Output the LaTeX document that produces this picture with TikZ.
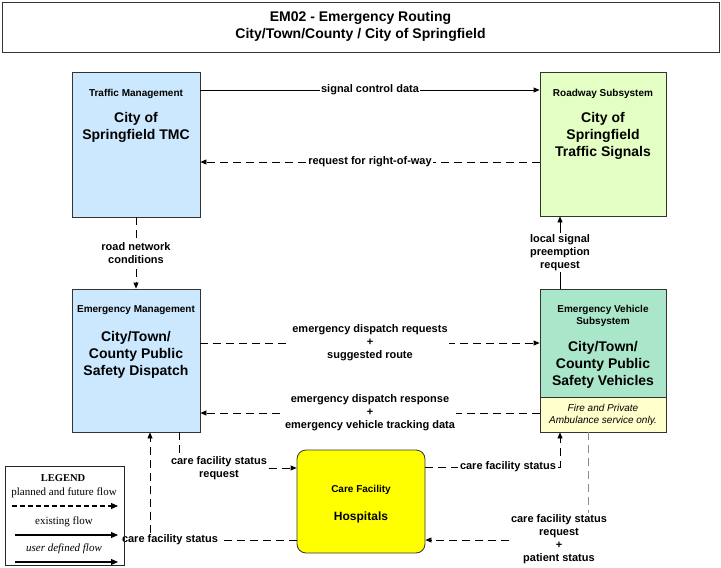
\documentclass[tikz,border=0pt]{standalone}
\usepackage{fontspec}
\setmainfont{Liberation Sans}
\newfontfamily\legfont{Liberation Serif}
\usetikzlibrary{arrows.meta,calc}
\definecolor{tmcblue}{HTML}{CCE8FE}
\definecolor{roadgreen}{HTML}{E4FFC4}
\definecolor{vehgreen}{HTML}{AAE6CA}
\definecolor{noteyellow}{HTML}{FFFFCC}
\definecolor{hospyellow}{HTML}{FFFF00}
\begin{document}
\begin{tikzpicture}[x=1pt,y=-1pt,
  sysbox/.style={draw=black!80, line width=0.8pt, inner sep=0pt},
  hdr/.style={font=\fontsize{10}{12}\selectfont\bfseries, align=center, inner sep=0pt},
  mainlbl/.style={font=\fontsize{14}{17}\selectfont\bfseries, align=center, inner sep=0pt},
  lab/.style={font=\fontsize{11}{13}\selectfont\bfseries, align=center, fill=white, inner sep=1.5pt},
  flowdash/.style={dash pattern=on 8pt off 5pt, line width=0.8pt},
  flowsolid/.style={line width=0.8pt},
  tip/.style={-{Triangle[length=6pt,width=5pt]}},
  legtxt/.style={font=\legfont\fontsize{11}{13}\selectfont, inner sep=0pt},
]
\useasboundingbox (0,0) rectangle (721,568);
% title
\node[draw=black!80, line width=1pt, minimum width=717pt, minimum height=50pt, inner sep=0pt] (title) at (360.5,27) {};
\node[mainlbl] (titletext) at (360.5,26.5) {EM02 - Emergency Routing\\City/Town/County / City of Springfield};

% boxes
\node[sysbox, fill=tmcblue, minimum width=128pt, minimum height=145pt] (tmc) at (136,144.5) {};
\node[hdr] (tmch) at (136,94) {Traffic Management};
\node[mainlbl] (tmcm) at (136,127.5) {City of\\Springfield TMC};

\node[sysbox, fill=roadgreen, minimum width=126pt, minimum height=144pt] (road) at (603,144) {};
\node[hdr] (roadh) at (603,94) {Roadway Subsystem};
\node[mainlbl] (roadm) at (603,136) {City of\\Springfield\\Traffic Signals};

\node[sysbox, fill=tmcblue, minimum width=128pt, minimum height=143pt] (em) at (136,360.5) {};
\node[hdr] (emh) at (136,310) {Emergency Management};
\node[mainlbl] (emm) at (136,354.5) {City/Town/\\County Public\\Safety Dispatch};

\node[sysbox, fill=vehgreen, minimum width=126pt, minimum height=108pt] (veh) at (603,343) {};
\node[sysbox, fill=noteyellow, minimum width=126pt, minimum height=35pt] (note) at (603,414.5) {};
\node[hdr] (vehh) at (603,316) {Emergency Vehicle\\Subsystem};
\node[mainlbl] (vehm) at (603,365) {City/Town/\\County Public\\Safety Vehicles};
\node[font=\fontsize{10}{12}\selectfont\itshape, align=center, inner sep=0pt] (notet) at (603,414.5) {Fire and Private\\Ambulance service only.};

\node[sysbox, fill=hospyellow, rounded corners=9pt, minimum width=128pt, minimum height=103pt] (hosp) at (361,501.5) {};
\node[hdr] (hosph) at (361,490) {Care Facility};
\node[font=\fontsize{12}{14}\selectfont\bfseries, inner sep=0pt] (hospm) at (361,517) {Hospitals};

% flows
\draw[flowsolid, tip] (tmc.east |- 0,90) -- node[lab] {signal control data} (road.west |- 0,90);
\draw[flowdash, tip] (road.west |- 0,162) -- node[lab] {request for right-of-way} (tmc.east |- 0,162);
\draw[flowdash, tip] (tmc.south) -- node[lab] {road network\\conditions} (em.north);
\draw[flowsolid, tip] (veh.north -| 560,0) -- node[lab] {local signal\\preemption\\request} (road.south -| 560,0);
\draw[flowdash, tip] (em.east |- 0,343) -- node[lab] {emergency dispatch requests\\+\\suggested route} (veh.west |- 0,343);
\draw[flowdash, tip] (note.west |- 0,413) -- node[lab] {emergency dispatch response\\+\\emergency vehicle tracking data} (em.east |- 0,413);

% care facility status request (left)
\node[lab] (cfsr) at (219,468) {care facility status\\request};
\draw[flowdash] (em.south -| 179,0) -- (cfsr.north -| 179,0);
\draw[flowdash, tip] (cfsr.east |- 0,468) -- (hosp.west |- 0,468);

% care facility status (left)
\node[lab] (cfsl) at (170,540) {care facility status};
\draw[flowdash] (hosp.west |- 0,540) -- (cfsl.east);
\draw[flowdash, tip] (cfsl.north -| 150,0) -- (em.south -| 150,0);

% care facility status (right)
\node[lab] (cfsrt) at (508,467) {care facility status};
\draw[flowdash] (hosp.east |- 0,467) -- (cfsrt.west);
\draw[flowdash, tip] (cfsrt.east) -| (note.south -| 560,0);

% care facility status request + patient status
\node[lab] (cfsp) at (559,539.5) {care facility status\\request\\+\\patient status};
\draw[flowdash, draw=black!45] (note.south -| 588,0) -- (cfsp.north -| 588,0);
\draw[flowdash, tip] (cfsp.west |- 0,540) -- (hosp.east |- 0,540);

% legend
\node[draw=black!85, line width=1pt, minimum width=119pt, minimum height=99pt, inner sep=0pt] (legend) at (64.5,515.5) {};
\node[legtxt, font=\legfont\fontsize{10.5}{12}\selectfont\bfseries] (legt) at (63,478) {LEGEND};
\node[legtxt] (leg1) at (64,493) {planned and future flow};
\node[legtxt] (leg2) at (64,522) {existing flow};
\node[legtxt, font=\legfont\fontsize{11}{13}\selectfont\itshape] (leg3) at (64,549) {user defined flow};
\coordinate (l1a) at (12,506); \coordinate (l1b) at (118,506);
\coordinate (l2a) at (15,535); \coordinate (l2b) at (118,535);
\coordinate (l3a) at (15,562); \coordinate (l3b) at (118,562);
\draw[line width=1.1pt, dash pattern=on 5pt off 3pt, -{Triangle[length=7pt,width=6pt]}] (l1a) -- (l1b);
\draw[line width=1.1pt, -{Triangle[length=7pt,width=6pt]}] (l2a) -- (l2b);
\draw[line width=1.1pt, -{Triangle[length=7pt,width=6pt]}] (l3a) -- (l3b);
\end{tikzpicture}
\end{document}
